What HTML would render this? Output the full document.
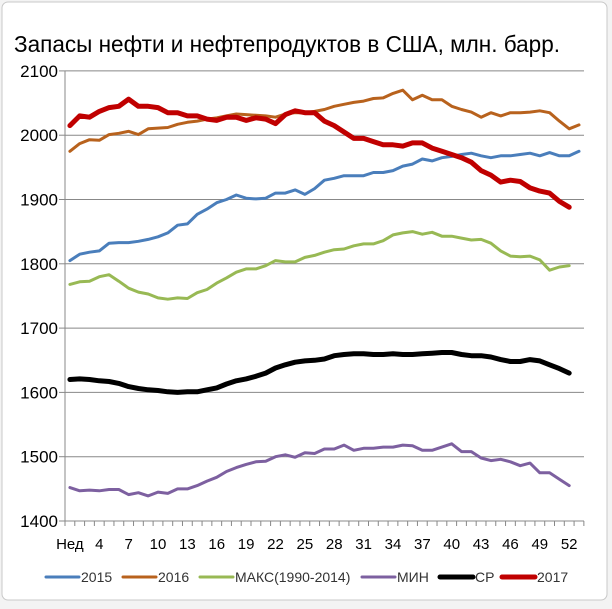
<!DOCTYPE html>
<html><head><meta charset="utf-8"><style>
body{margin:0;background:#fff;}
svg{display:block;font-family:"Liberation Sans","DejaVu Sans",sans-serif;}
</style></head><body>
<svg id="s" width="612" height="609" xmlns="http://www.w3.org/2000/svg">
<rect x="0" y="0" width="612" height="609" fill="#f3f3f3"/>
<rect x="2" y="2" width="605" height="598" rx="6" fill="#fff" stroke="#c8c8c8"/>
<text x="14" y="52" font-size="23" textLength="546" lengthAdjust="spacingAndGlyphs" fill="#000">Запасы нефти и нефтепродуктов в США, млн. барр.</text>
<g id="g"></g>
</svg>
<script>
var g=document.getElementById('g'),h='';
function Y(v){return 521-(v-1400)*0.643;}
function X(i){return 65+(i-0.5)*9.79;}
for(var v=1400;v<=2100;v+=100){var y=Y(v);
 if(v>1400)h+='<line x1="65" x2="584" y1="'+y+'" y2="'+y+'" stroke="#888" stroke-width="1"/>';
 h+='<line x1="59" x2="65" y1="'+y+'" y2="'+y+'" stroke="#888"/>';
 h+='<text x="58" y="'+(y+6)+'" font-size="17" text-anchor="end">'+v+'</text>';}
h+='<line x1="65" x2="65" y1="'+Y(2100)+'" y2="521" stroke="#888"/>';
h+='<line x1="65" x2="584" y1="521" y2="521" stroke="#888"/>';
for(var i=0;i<=53;i++){var x=65+i*9.79;h+='<line x1="'+x+'" x2="'+x+'" y1="521" y2="526" stroke="#888"/>';}
var labs=[[1,'Нед']];for(var k=4;k<=52;k+=3)labs.push([k,''+k]);
labs.forEach(function(l){h+='<text x="'+X(l[0])+'" y="549" font-size="15" text-anchor="middle">'+l[1]+'</text>';});
var S=[
['#4a7ebb',3,[1805,1815,1818,1820,1832,1833,1833,1835,1838,1842,1848,1860,1862,1877,1885,1895,1900,1907,1902,1901,1902,1910,1910,1915,1908,1917,1930,1933,1937,1937,1937,1942,1942,1945,1952,1955,1963,1960,1965,1967,1970,1972,1968,1965,1968,1968,1970,1972,1968,1973,1968,1968,1975]],
['#b8621d',3,[1975,1987,1993,1992,2001,2003,2006,2001,2010,2011,2012,2017,2020,2022,2025,2027,2030,2033,2032,2031,2030,2028,2033,2035,2035,2037,2040,2045,2048,2051,2053,2057,2058,2065,2070,2055,2062,2055,2055,2045,2040,2036,2028,2035,2030,2035,2035,2036,2038,2035,2022,2010,2016]],
['#98b954',3,[1768,1772,1773,1780,1783,1773,1762,1756,1753,1747,1745,1747,1746,1755,1760,1770,1778,1787,1792,1792,1797,1805,1803,1803,1810,1813,1818,1822,1823,1828,1831,1831,1836,1845,1848,1850,1846,1849,1843,1843,1840,1837,1838,1832,1820,1812,1811,1812,1806,1790,1795,1797]],
['#7d60a0',3,[1452,1447,1448,1447,1449,1449,1441,1444,1439,1445,1443,1450,1450,1455,1462,1468,1477,1483,1488,1492,1493,1500,1503,1499,1506,1505,1512,1512,1518,1510,1513,1513,1515,1515,1518,1517,1510,1510,1515,1520,1508,1508,1498,1494,1496,1492,1486,1490,1475,1475,1465,1455]],
['#000',5,[1620,1621,1620,1618,1617,1614,1609,1606,1604,1603,1601,1600,1601,1601,1604,1607,1613,1618,1621,1625,1630,1638,1643,1647,1649,1650,1652,1657,1659,1660,1660,1659,1659,1660,1659,1659,1660,1661,1662,1662,1659,1657,1657,1655,1651,1648,1648,1651,1649,1643,1637,1630]],
['#c00000',5,[2015,2030,2028,2037,2043,2045,2056,2045,2045,2043,2035,2035,2030,2030,2025,2023,2028,2028,2023,2027,2025,2018,2032,2038,2035,2035,2022,2015,2005,1995,1995,1990,1985,1985,1983,1988,1988,1980,1975,1970,1965,1958,1945,1938,1927,1930,1928,1918,1913,1910,1897,1888]]];
S.forEach(function(s){var p=s[2].map(function(v,i){return X(i+1).toFixed(1)+','+Y(v).toFixed(1);}).join(' ');
 h+='<polyline points="'+p+'" fill="none" stroke="'+s[0]+'" stroke-width="'+s[1]+'" stroke-linejoin="round" stroke-linecap="round"/>';});
var L=[['#4a7ebb',3,46,'2015'],['#b8621d',3,123,'2016'],['#98b954',3,200,'МАКС(1990-2014)'],['#7d60a0',3,362,'МИН'],['#000',5,440,'СР'],['#c00000',5,502,'2017']];
L.forEach(function(l){h+='<line x1="'+l[2]+'" x2="'+(l[2]+33)+'" y1="577" y2="577" stroke="'+l[0]+'" stroke-width="'+l[1]+'" stroke-linecap="round"/>';
 h+='<text x="'+(l[2]+35)+'" y="582" font-size="14" fill="#333">'+l[3]+'</text>';});
g.innerHTML=h;
</script>
</body></html>
